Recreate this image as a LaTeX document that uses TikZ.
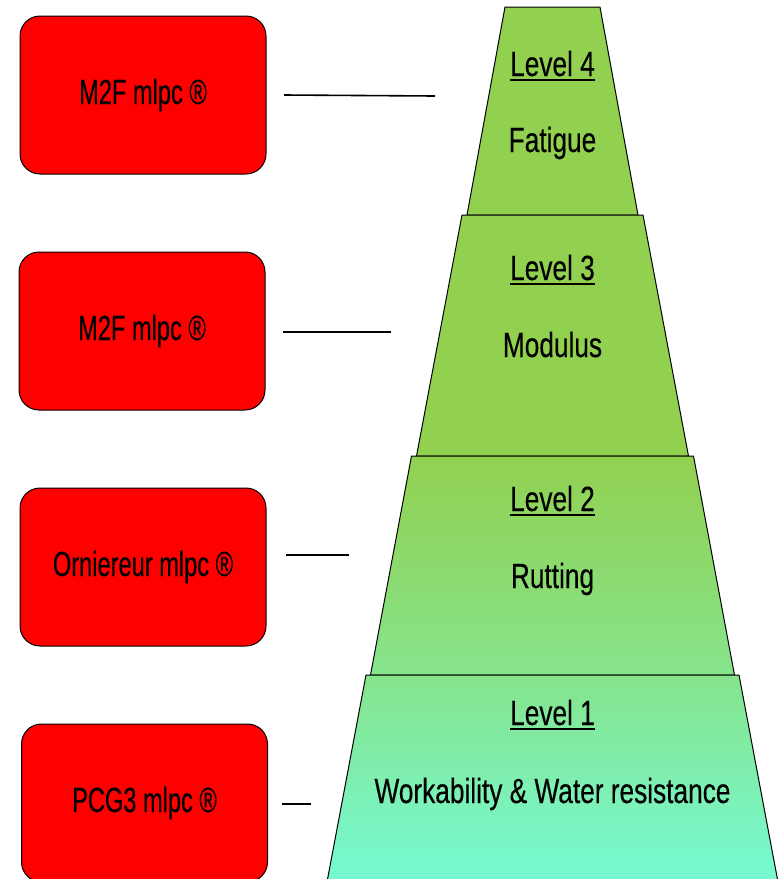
\documentclass[tikz,border=0pt]{standalone}
\usepackage{fontspec}
\setmainfont[FakeStretch=0.75,FakeBold=0.3]{Liberation Sans}
\newfontfamily\boxfont[FakeStretch=0.675,FakeBold=0.3]{Liberation Sans}
\definecolor{lvgreen}{RGB}{146,208,80}
\definecolor{lvmid}{RGB}{134,228,140}
\definecolor{lvaqua}{RGB}{118,250,212}
\newcommand{\levelul}[1]{\setbox0=\hbox{#1}\rlap{\rule[-5pt]{\wd0}{2.2pt}}\box0}

\begin{document}
\begin{tikzpicture}[x=1pt, y=-1pt,
  toolbox/.style={draw=black, line width=1pt, fill=red, rounded corners=20pt, minimum width=246pt, minimum height=158pt, inner sep=0pt, font=\boxfont\fontsize{35}{42}\selectfont},
  leveltext/.style={anchor=base, inner sep=0pt, font=\fontsize{35}{42}\selectfont},
  layer/.style={draw=black, line width=1pt},
  link/.style={line width=1.6pt}]
\useasboundingbox (0,0) rectangle (781,879);

\draw[layer, fill=lvgreen] (505,7) -- (600,7) -- (638,215) -- (467,215) -- cycle;
\draw[layer, fill=lvgreen] (462,215) -- (643,215) -- (688.5,456) -- (416.5,456) -- cycle;
\draw[layer, top color=lvgreen, bottom color=lvmid] (411.5,456) -- (693.5,456) -- (734.5,675) -- (370.5,675) -- cycle;
\draw[layer, top color=lvmid, bottom color=lvaqua] (366,675) -- (739,675) -- (778,882) -- (327,882) -- cycle;

\node[leveltext] (t4) at (552.5,76) {\levelul{Level 4}};
\node[leveltext] (d4) at (552.5,152) {Fatigue};
\node[leveltext] (t3) at (552.5,280) {\levelul{Level 3}};
\node[leveltext] (d3) at (552.5,357) {Modulus};
\node[leveltext] (t2) at (552.5,511) {\levelul{Level 2}};
\node[leveltext] (d2) at (552.5,588) {Rutting};
\node[leveltext] (t1) at (552.5,725) {\levelul{Level 1}};
\node[leveltext] (d1) at (552.5,803) {Workability \& Water resistance};

\node[toolbox] (b4) at (143,95) {M2F mlpc ®};
\node[toolbox] (b3) at (142,331) {M2F mlpc ®};
\node[toolbox] (b2) at (143,567) {Orniereur mlpc ®};
\node[toolbox] (b1) at (144.5,803) {PCG3 mlpc ®};

\coordinate (s4) at (284,95);  \coordinate (e4) at (435,96);
\coordinate (s3) at (283,332); \coordinate (e3) at (391,332);
\coordinate (s2) at (286,555); \coordinate (e2) at (349,555);
\coordinate (s1) at (282,804); \coordinate (e1) at (311,804);
\draw[link] (s4) -- (e4);
\draw[link] (s3) -- (e3);
\draw[link] (s2) -- (e2);
\draw[link] (s1) -- (e1);
\end{tikzpicture}
\end{document}
